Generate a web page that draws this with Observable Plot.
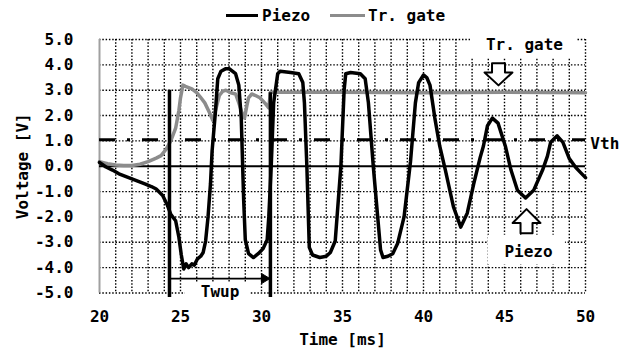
<!DOCTYPE html>
<html><head><meta charset="utf-8">
<script src="https://cdn.jsdelivr.net/npm/d3@7"></script>
<script src="https://cdn.jsdelivr.net/npm/@observablehq/plot@0.6"></script>
<style>
body{margin:0;background:#fff;}
#wrap{position:relative;width:626px;height:351px;overflow:hidden;}
#legend{position:relative;height:30px;font:bold 16px "DejaVu Sans Mono",monospace;color:#000;}
.item{position:absolute;top:0;height:30px;display:flex;align-items:center;white-space:pre;}
.sw{display:inline-block;height:3px;}
svg text{font-family:"DejaVu Sans Mono",monospace;font-size:16px;font-weight:bold;fill:#000;}
</style></head>
<body><div id="wrap"><div id="legend"></div><div id="chart"></div></div>
<script>
// ---- data ----
const seriesNames = ["Piezo", "Tr. gate"];
const seriesColors = ["#000000", "#8c8c8c"];

const piezoT = [20.0,20.4,20.8,21.2,21.6,22.0,22.4,22.8,23.2,23.5,23.9,24.2,24.4,24.7,24.9,25.05,25.2,25.35,25.5,25.7,25.85,26.05,26.25,26.4,26.55,26.7,26.85,26.95,27.15,27.3,27.5,27.8,28.0,28.2,28.4,28.6,28.75,28.9,29.0,29.2,29.5,29.8,30.1,30.35,30.45,30.6,30.75,31.0,31.15,31.8,32.3,32.55,32.65,32.8,32.95,33.15,33.6,34.0,34.25,34.55,34.9,35.1,35.2,35.5,36.1,36.4,36.6,36.9,37.35,37.5,37.8,38.1,38.4,38.8,39.2,39.5,39.7,40.0,40.2,40.4,40.7,41.0,41.35,41.85,42.3,42.7,43.1,43.5,43.7,43.95,44.25,44.6,45.05,45.4,45.8,46.3,46.8,47.35,47.65,47.85,48.25,48.6,49.0,49.4,49.7,50.0];
const piezoV = [0.15,-0.03,-0.15,-0.3,-0.4,-0.5,-0.6,-0.7,-0.8,-0.9,-1.15,-1.55,-1.9,-2.15,-2.8,-3.5,-4.05,-3.85,-4.0,-3.85,-3.9,-3.65,-3.55,-3.4,-2.95,-2.0,-0.7,0.6,2.1,3.45,3.75,3.85,3.85,3.75,3.65,3.2,1.9,-1.35,-2.9,-3.45,-3.6,-3.45,-3.25,-2.9,-2.0,0.0,2.5,3.65,3.75,3.7,3.65,3.3,2.5,0.0,-3.2,-3.5,-3.6,-3.55,-3.4,-2.95,0.0,3.0,3.65,3.7,3.65,3.45,2.5,0.0,-3.3,-3.6,-3.55,-3.45,-3.05,-2.0,0.2,2.5,3.3,3.6,3.5,3.2,1.9,0.8,-0.15,-1.6,-2.4,-1.85,-0.7,0.35,0.8,1.6,1.9,1.7,0.8,-0.15,-0.95,-1.25,-0.95,-0.15,0.4,0.95,1.2,0.95,0.3,-0.05,-0.25,-0.45];

const gateT = [20.0,20.5,21.0,21.5,22.0,22.5,23.0,23.5,23.8,24.1,24.4,24.7,24.9,25.0,25.15,25.3,25.5,25.7,26.0,26.2,26.5,26.8,27.0,27.2,27.4,27.6,27.8,28.1,28.4,28.6,28.8,28.95,29.1,29.2,29.4,29.6,29.9,30.2,30.45,30.55,35.0,40.0,45.0,50.0];
const gateV = [0.18,0.1,0.05,0.03,0.03,0.08,0.18,0.32,0.42,0.66,1.0,1.5,2.2,2.7,3.2,3.15,3.1,3.05,2.9,2.75,2.5,2.1,1.8,2.3,2.8,2.95,3.0,2.9,2.85,2.5,2.1,1.9,2.4,2.7,2.85,2.8,2.7,2.5,2.3,2.92,2.92,2.9,2.92,2.9];

const vth = 1.05;
const markerT = [24.32, 30.55];     // Twup start / end
const markerTop = [3.0, 2.9];
const xTicks = [20, 25, 30, 35, 40, 45, 50];
const yTicks = [-5, -4, -3, -2, -1, 0, 1, 2, 3, 4, 5];

// ---- legend ----
const legend = document.getElementById("legend");
const legendPos = [{left: 226, w: 32, gap: 4}, {left: 330, w: 35, gap: 3}];
seriesNames.forEach((n, i) => {
  const it = document.createElement("div");
  it.className = "item";
  it.style.left = legendPos[i].left + "px";
  const sw = document.createElement("span");
  sw.className = "sw";
  sw.style.width = legendPos[i].w + "px";
  sw.style.marginRight = legendPos[i].gap + "px";
  sw.style.background = seriesColors[i];
  it.appendChild(sw);
  it.appendChild(document.createTextNode(n));
  legend.appendChild(it);
});

// ---- tables ----
const piezo = piezoT.map((t, i) => ({t, v: piezoV[i]}));
const gate = gateT.map((t, i) => ({t, v: gateV[i]}));
const markers = markerT.map((t, i) => ({t, top: markerTop[i]}));

// hollow arrows built around anchor points (data units)
function arrowShape(xc, yTop, yHead, yTip, sh, hh) {
  return [[xc-sh,yTop],[xc+sh,yTop],[xc+sh,yHead],[xc+hh,yHead],[xc,yTip],[xc-hh,yHead],[xc-sh,yHead],[xc-sh,yTop]].map(([t,v])=>({t,v}));
}
const gateArrow = arrowShape(44.63, 4.06, 3.70, 3.19, 0.4, 0.86);
const piezoArrow = arrowShape(46.36, -2.64, -2.24, -1.69, 0.37, 0.86);
const twupY = -4.43;
const twupHead = [[30.52, twupY],[30.0, twupY+0.2],[30.0, twupY-0.2],[30.52, twupY]].map(([t,v])=>({t,v}));

const boxes = [
  {x1: 42.9, x2: 49.5, y1: 4.25, y2: 5.1},
  {x1: 44.0, x2: 48.76, y1: -3.9, y2: -2.72},
  {x1: 25.3, x2: 29.32, y1: -5.3, y2: -4.62}
];
const midLabels = [
  {t: 46.23, v: 4.8, text: "Tr. gate"},
  {t: 46.48, v: -3.39, text: "Piezo"},
  {t: 27.44, v: -4.96, text: "Twup"}
];
const vthLabel = [{t: 50.3, v: 0.88, text: "Vth"}];

const font = {fontFamily: "DejaVu Sans Mono", fontSize: 16, fontWeight: "bold", fill: "black"};
const dotted = {stroke: "black", strokeWidth: 1.4, strokeDasharray: "1.5,1.8"};

const chart = Plot.plot({
  width: 626, height: 321,
  marginTop: 9, marginBottom: 58.5, marginLeft: 99, marginRight: 41,
  style: {background: "white", color: "black", fontFamily: "DejaVu Sans Mono", fontSize: "16px", fontWeight: "bold", overflow: "visible"},
  x: {domain: [20, 50], ticks: xTicks, tickSize: 0, tickPadding: 18, label: null},
  y: {domain: [-5, 5], ticks: yTicks, tickSize: 0, tickPadding: 26, label: null, tickFormat: d => d.toFixed(1)},
  marks: [
    Plot.ruleX(d3.range(21, 51), dotted),
    Plot.ruleY(yTicks.filter(d => d !== 0), dotted),
    Plot.ruleX([20], {stroke: "#a0a0a0", strokeWidth: 2}),
    Plot.rect(boxes, {x1: "x1", x2: "x2", y1: "y1", y2: "y2", fill: "white"}),
    Plot.ruleY([0], {stroke: "black", strokeWidth: 2}),
    Plot.ruleY([vth], {stroke: "black", strokeWidth: 3, strokeDasharray: "16,12,3,12"}),
    Plot.line(gate, {x: "t", y: "v", stroke: seriesColors[1], strokeWidth: 3.5}),
    Plot.line(piezo, {x: "t", y: "v", stroke: seriesColors[0], strokeWidth: 3.5}),
    Plot.ruleX(markers, {x: "t", y1: "top", y2: -5.18, stroke: "black", strokeWidth: 3.5}),
    Plot.ruleY([twupY], {x1: markerT[0], x2: 30.1, stroke: "black", strokeWidth: 1.8}),
    Plot.line(twupHead, {x: "t", y: "v", fill: "black", stroke: "black", strokeWidth: 1}),
    Plot.line(gateArrow, {x: "t", y: "v", fill: "white", stroke: "black", strokeWidth: 2}),
    Plot.line(piezoArrow, {x: "t", y: "v", fill: "white", stroke: "black", strokeWidth: 2}),
    Plot.text(midLabels, {x: "t", y: "v", text: "text", textAnchor: "middle", lineAnchor: "middle", ...font}),
    Plot.text(vthLabel, {x: "t", y: "v", text: "text", textAnchor: "start", lineAnchor: "middle", ...font}),
    Plot.text(["Voltage [V]"], {frameAnchor: "left", dx: -77, rotate: -90, textAnchor: "middle", lineAnchor: "middle", ...font}),
    Plot.text(["Time [ms]"], {frameAnchor: "bottom", dy: 46.5, textAnchor: "middle", lineAnchor: "middle", ...font})
  ]
});
document.getElementById("chart").appendChild(chart);
</script></body></html>
